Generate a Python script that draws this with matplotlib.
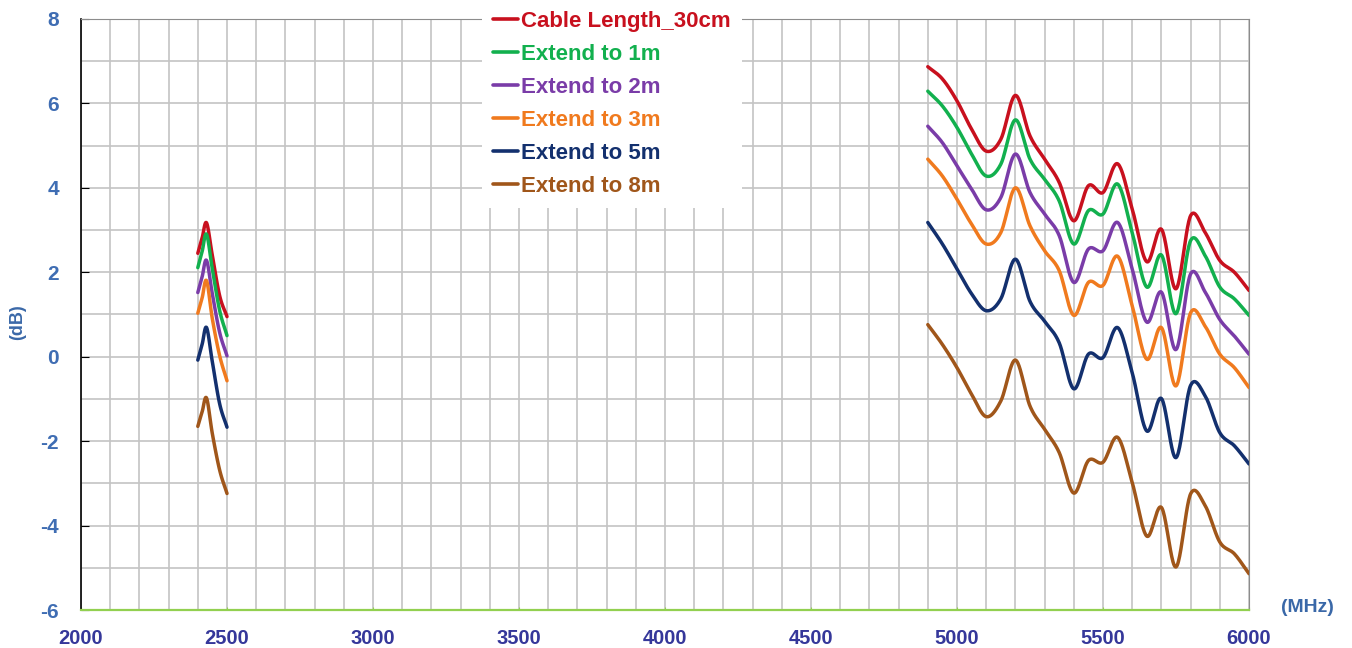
import numpy as np
import matplotlib
matplotlib.use("Agg")
import matplotlib.pyplot as plt
from matplotlib.ticker import MultipleLocator

plt.rcParams['font.family'] = ['Liberation Sans', 'DejaVu Sans']
plt.rcParams['font.weight'] = 'bold'
plt.rcParams['axes.unicode_minus'] = False

# ---- data: gain (dB) versus frequency (MHz) ----
freq_24g = [2400, 2415, 2430, 2450, 2475, 2500]
freq_5g = [4900, 4950, 5000, 5050, 5100, 5150, 5200, 5250, 5300, 5350, 5400,
           5450, 5500, 5550, 5600, 5650, 5700, 5750, 5800, 5850, 5900, 5950, 6000]

series_names = ["Cable Length_30cm", "Extend to 1m", "Extend to 2m",
                "Extend to 3m", "Extend to 5m", "Extend to 8m"]

cable_30cm_24g = [2.45, 2.82, 3.17, 2.39, 1.44, 0.95]
ext_1m_24g = [2.11, 2.50, 2.90, 2.07, 1.09, 0.50]
ext_2m_24g = [1.52, 1.90, 2.28, 1.48, 0.57, 0.02]
ext_3m_24g = [1.03, 1.40, 1.80, 0.89, 0.02, -0.57]
ext_5m_24g = [-0.08, 0.30, 0.69, -0.13, -1.12, -1.67]
ext_8m_24g = [-1.65, -1.30, -0.98, -1.83, -2.69, -3.24]

cable_30cm_5g = [6.87, 6.58, 6.06, 5.39, 4.87, 5.15, 6.19, 5.23, 4.68, 4.13, 3.22,
                 4.05, 3.89, 4.57, 3.50, 2.25, 3.02, 1.61, 3.34, 2.94, 2.28, 2.00, 1.57]
ext_1m_5g = [6.29, 5.94, 5.43, 4.80, 4.28, 4.56, 5.61, 4.68, 4.20, 3.69, 2.67,
             3.46, 3.38, 4.09, 2.94, 1.65, 2.41, 1.02, 2.75, 2.39, 1.65, 1.37, 0.98]
ext_2m_5g = [5.46, 5.07, 4.52, 3.97, 3.48, 3.77, 4.80, 3.89, 3.38, 2.87, 1.76,
             2.55, 2.51, 3.18, 2.08, 0.82, 1.53, 0.17, 1.96, 1.53, 0.88, 0.49, 0.06]
ext_3m_5g = [4.68, 4.28, 3.73, 3.14, 2.67, 2.94, 4.00, 3.10, 2.51, 2.04, 0.98,
             1.76, 1.69, 2.38, 1.21, -0.06, 0.69, -0.69, 1.04, 0.72, 0.06, -0.26, -0.73]
ext_5m_5g = [3.18, 2.67, 2.08, 1.49, 1.09, 1.37, 2.31, 1.31, 0.84, 0.33, -0.76,
             0.06, -0.02, 0.69, -0.38, -1.76, -0.99, -2.39, -0.68, -0.93, -1.80, -2.11, -2.54]
ext_8m_5g = [0.76, 0.29, -0.26, -0.89, -1.42, -1.05, -0.08, -1.17, -1.72, -2.27, -3.23,
             -2.46, -2.50, -1.91, -2.98, -4.25, -3.57, -4.98, -3.25, -3.53, -4.39, -4.67, -5.14]

band_24g = [cable_30cm_24g, ext_1m_24g, ext_2m_24g, ext_3m_24g, ext_5m_24g, ext_8m_24g]
band_5g = [cable_30cm_5g, ext_1m_5g, ext_2m_5g, ext_3m_5g, ext_5m_5g, ext_8m_5g]

colors = ["#C8101E", "#12B04E", "#7A3CA8", "#F07A1E", "#13306E", "#A0561A"]

x_ticks = [2000, 2500, 3000, 3500, 4000, 4500, 5000, 5500, 6000]
y_ticks = [-6, -4, -2, 0, 2, 4, 6, 8]


def smoothed(xs, ys, steps=24):
    """Catmull-Rom curve through the points, like a spreadsheet 'smoothed line'."""
    x = np.asarray(xs, float)
    y = np.asarray(ys, float)
    px = np.concatenate([[2 * x[0] - x[1]], x, [2 * x[-1] - x[-2]]])
    py = np.concatenate([[2 * y[0] - y[1]], y, [2 * y[-1] - y[-2]]])
    t = np.linspace(0, 1, steps, endpoint=False)[:, None]
    out_x, out_y = [], []
    for i in range(1, len(px) - 2):
        for p, out in ((px, out_x), (py, out_y)):
            p0, p1, p2, p3 = p[i - 1], p[i], p[i + 1], p[i + 2]
            seg = 0.5 * ((2 * p1) + (-p0 + p2) * t + (2 * p0 - 5 * p1 + 4 * p2 - p3) * t ** 2
                         + (-p0 + 3 * p1 - 3 * p2 + p3) * t ** 3)
            out.append(seg.ravel())
    out_x.append([x[-1]])
    out_y.append([y[-1]])
    return np.concatenate(out_x), np.concatenate(out_y)


fig = plt.figure(figsize=(13.52, 6.48), dpi=100)
ax = fig.add_axes([81 / 1352, 1 - 610 / 648, (1249 - 81) / 1352, (610 - 19) / 648])

for name, col, lo, hi in zip(series_names, colors, band_24g, band_5g):
    sx, sy = smoothed(freq_24g, lo)
    ax.plot(sx, sy, color=col, lw=2.5, solid_capstyle='round', label=name, zorder=3)
    sx, sy = smoothed(freq_5g, hi)
    ax.plot(sx, sy, color=col, lw=2.5, solid_capstyle='round', zorder=3)

ax.set_xlim(2000, 6000)
ax.set_ylim(-6, 8)
ax.set_xticks(x_ticks)
ax.set_yticks(y_ticks)
ax.xaxis.set_minor_locator(MultipleLocator(100))
ax.yaxis.set_minor_locator(MultipleLocator(1))
ax.grid(which='both', color='#C4C4C4', lw=1.2, zorder=0)
ax.set_axisbelow(True)

for lbl in ax.get_xticklabels():
    lbl.set_color('#35379A')
for lbl in ax.get_yticklabels():
    lbl.set_color('#3F6DB3')
ax.tick_params(axis='x', which='major', direction='in', length=2, color='#92D050',
               labelsize=14.5, pad=14)
ax.tick_params(axis='y', which='major', direction='in', length=6, color='black',
               labelsize=15, pad=16)
ax.tick_params(which='minor', length=0)

ax.spines['left'].set_color('black')
ax.spines['left'].set_linewidth(1.2)
ax.spines['bottom'].set_color('#92D050')
ax.spines['bottom'].set_linewidth(1.6)
ax.spines['top'].set_color('#8C8C8C')
ax.spines['right'].set_color('#8C8C8C')

fig.text(18 / 1352, 1 - 322 / 648, "(dB)", rotation=90, ha='center', va='center',
         fontsize=13, fontweight='bold', color='#3A68A8')
fig.text(1307 / 1352, 1 - 607 / 648, "(MHz)", ha='center', va='center',
         fontsize=14, fontweight='bold', color='#3A68A8')

leg = ax.legend(loc='upper left', bbox_to_anchor=(482 / 1352, 1.0),
                bbox_transform=fig.transFigure, frameon=True, fancybox=False,
                framealpha=1, edgecolor='none', facecolor='white',
                prop={'size': 16, 'weight': 'bold'}, labelcolor='linecolor',
                handlelength=1.1, handletextpad=0.15, labelspacing=0.535,
                borderpad=0.5, borderaxespad=0)
leg.set_zorder(5)
for h in leg.get_lines():
    h.set_linewidth(2.6)

fig.savefig("out.png", dpi=100, facecolor='white')
